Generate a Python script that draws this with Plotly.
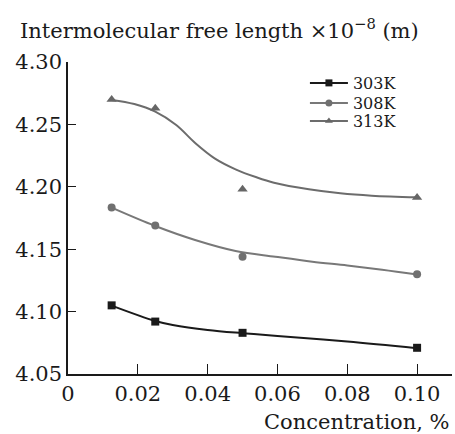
import plotly.graph_objects as go

# measured points
conc = [0.0125, 0.025, 0.05, 0.1]
l303 = [4.105, 4.092, 4.083, 4.071]
l308 = [4.1835, 4.169, 4.144, 4.130]
l313 = [4.270, 4.263, 4.198, 4.1915]

# fitted (smoothed) curves
fit_x303 = [0.0125, 0.025, 0.03, 0.04, 0.05, 0.06, 0.08, 0.1]
fit_y303 = [4.1048, 4.0925, 4.0893, 4.0853, 4.0827, 4.0805, 4.0760, 4.0707]
fit_x308 = [0.0125, 0.025, 0.0364, 0.048, 0.0594, 0.07, 0.08, 0.09, 0.1]
fit_y308 = [4.1833, 4.1686, 4.1574, 4.1486, 4.1440, 4.1400, 4.1370, 4.1336, 4.1297]
fit_x313 = [0.0125, 0.019, 0.025, 0.031, 0.0365, 0.042, 0.048, 0.054, 0.059,
            0.069, 0.078, 0.087, 0.1]
fit_y313 = [4.2696, 4.2663, 4.2602, 4.2495, 4.2349, 4.2228, 4.2140, 4.2076, 4.2033,
            4.1980, 4.1948, 4.1929, 4.1916]

names = ["303K", "308K", "313K"]
colors = ["#1a1a1a", "#707070", "#666666"]
line_colors = ["#1a1a1a", "#787878", "#6c6c6c"]
symbols = ["square", "circle", "triangle-up"]
msizes = [8, 8, 9]

xticks = [0, 0.02, 0.04, 0.06, 0.08, 0.10]
xticktext = ["0", "0.02", "0.04", "0.06", "0.08", "0.10"]
yticks = [4.05, 4.10, 4.15, 4.20, 4.25, 4.30]
yticktext = ["4.05", "4.10", "4.15", "4.20", "4.25", "4.30"]

FONT = "DejaVu Serif"
legend_ids = ["legend", "legend2", "legend3"]
legend_y = [0.9327, 0.8686, 0.8109]

fig = go.Figure()
fits = [(fit_x303, fit_y303), (fit_x308, fit_y308), (fit_x313, fit_y313)]
pts = [l303, l308, l313]
for i in range(3):
    fig.add_trace(go.Scatter(x=fits[i][0], y=fits[i][1], mode="lines",
                             line=dict(color=line_colors[i], width=2, shape="spline", smoothing=1),
                             showlegend=False, hoverinfo="skip"))
    fig.add_trace(go.Scatter(x=conc, y=pts[i], mode="markers",
                             marker=dict(color=colors[i], symbol=symbols[i], size=msizes[i]),
                             showlegend=False))
    fig.add_trace(go.Scatter(x=[None], y=[None], mode="lines+markers", name=names[i],
                             legend=legend_ids[i],
                             line=dict(color=line_colors[i], width=2),
                             marker=dict(color=colors[i], symbol=symbols[i], size=7)))

legend_common = dict(x=0.617, xanchor="left", yanchor="middle",
                     font=dict(family=FONT, size=16, color="#1a1a1a"),
                     bgcolor="rgba(0,0,0,0)", itemwidth=38,
                     borderwidth=0)

fig.update_layout(
    width=455, height=434,
    margin=dict(l=68, r=3, t=62, b=60),
    paper_bgcolor="white", plot_bgcolor="white",
    font=dict(family=FONT, size=20, color="#1a1a1a"),
    showlegend=True,
    legend=dict(y=legend_y[0], **legend_common),
    legend2=dict(y=legend_y[1], **legend_common),
    legend3=dict(y=legend_y[2], **legend_common),
    xaxis=dict(range=[0, 0.11], tickvals=xticks, ticktext=xticktext,
               showgrid=False, zeroline=False, showline=True, linecolor="#1a1a1a",
               linewidth=1.5, ticks="inside", ticklen=10, tickcolor="#1a1a1a",
               tickfont=dict(family=FONT, size=21, color="#1a1a1a")),
    yaxis=dict(range=[4.05, 4.30], tickvals=yticks, ticktext=yticktext,
               showgrid=False, zeroline=False, showline=True, linecolor="#1a1a1a",
               linewidth=1.5, ticks="inside", ticklen=8, tickcolor="#1a1a1a",
               tickfont=dict(family=FONT, size=21, color="#1a1a1a")),
    annotations=[
        dict(text="Intermolecular free length ×10<sup>−8</sup> (m)", xref="paper", yref="paper",
             x=-0.13, y=1.0, yshift=33, xanchor="left", yanchor="middle", showarrow=False,
             font=dict(family=FONT, size=21, color="#1a1a1a")),
        dict(text="Concentration, %", xref="paper", yref="paper",
             x=1.0, y=0, yshift=-48, xanchor="right", yanchor="middle", showarrow=False,
             font=dict(family=FONT, size=21, color="#1a1a1a")),
    ],
)

fig.write_html("out.html")
